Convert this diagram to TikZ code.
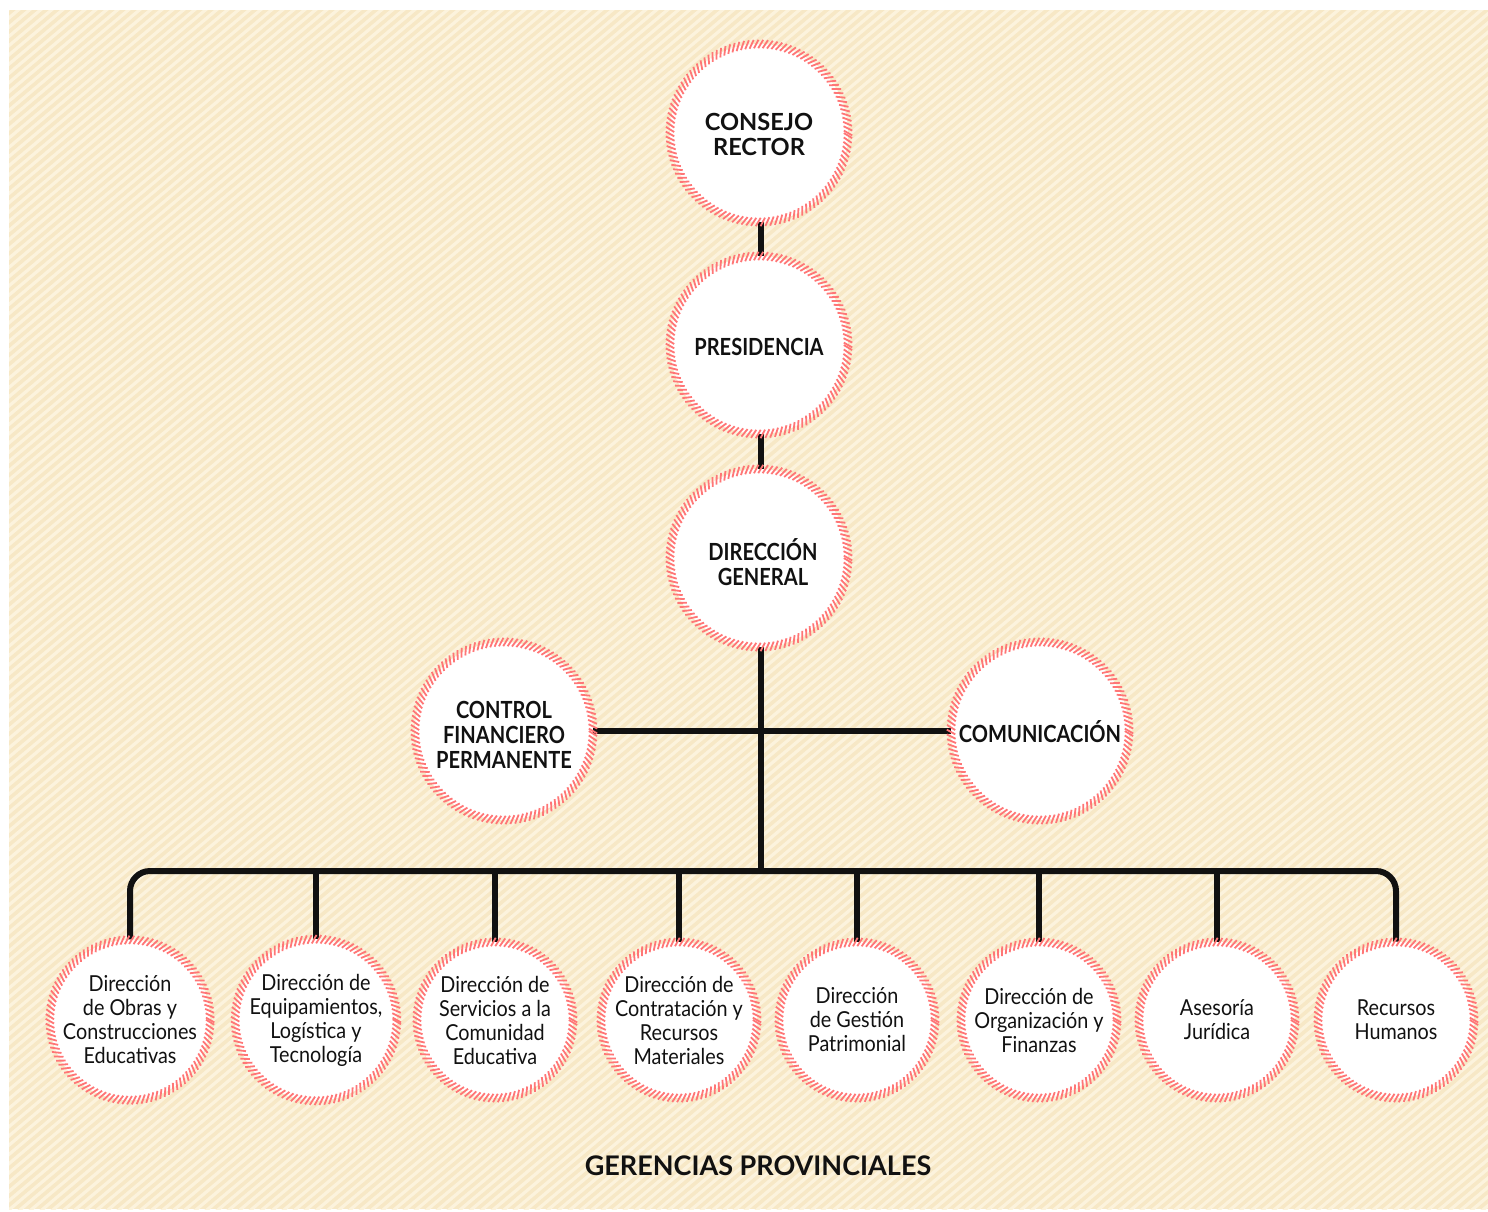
\documentclass[tikz,border=0pt]{standalone}
\usepackage{fontspec}
\setmainfont{Lato}
\newfontfamily\headfont[FakeStretch=0.85]{Lato}
\newfontfamily\bodyfont[FakeStretch=0.9]{Lato}
\usetikzlibrary{decorations.markings}
\definecolor{bgbeige}{HTML}{F7E8C6}
\definecolor{stripe}{HTML}{FCF3DD}
\definecolor{ringc}{HTML}{FF7676}
\definecolor{ink}{HTML}{111111}
\pgfdeclarelayer{bg}
\pgfsetlayers{bg,main}
\tikzset{
  ringed/.style={circle, fill=white, inner sep=0pt, align=center, text=ink,
    postaction={decorate, decoration={markings,
      mark=between positions 0 and 1 step 2.3pt with {\draw[ringc, line width=0.9pt] (-1.2pt,-2.1pt) -- (1.2pt,2.1pt);}}}},
  bigc/.style={ringed, minimum size=89pt},
  headtxt/.style={text=ink, align=center, inner sep=0pt, font=\headfont\bfseries\fontsize{11.8}{12.5}\selectfont},
  widetxt/.style={text=ink, align=center, inner sep=0pt, font=\bfseries\fontsize{11.8}{12.5}\selectfont},
  smallc/.style={ringed, minimum size=78pt, font=\bodyfont\fontsize{11}{12}\selectfont},
  conn/.style={draw=ink, line width=3pt},
  footer/.style={text=ink, font=\bfseries\fontsize{13.5}{14}\selectfont},
}
\begin{document}
\begin{tikzpicture}[x=0.5pt,y=-0.5pt]
\useasboundingbox (0,0) rectangle (1488,1211);
% upper circles
\node[bigc] (cr) at (759,133) {};
\node[bigc] (pr) at (759,345) {};
\node[bigc] (dg) at (759,558) {};
\node[bigc] (cf) at (504,731) {};
\node[bigc] (co) at (1040,731) {};
\node[widetxt] (cr-t) at ([yshift=-0.8pt]cr.center) {CONSEJO\\RECTOR};
\node[headtxt] (pr-t) at ([yshift=-1pt]pr.center) {PRESIDENCIA};
\node[headtxt] (dg-t) at ([xshift=2pt,yshift=-2pt]dg.center) {DIRECCIÓN\\GENERAL};
\node[headtxt] (cf-t) at ([yshift=-2pt]cf.center) {CONTROL\\FINANCIERO\\PERMANENTE};
\node[headtxt] (co-t) at ([yshift=-0.5pt]co.center) {COMUNICACIÓN};
% lower circles
\node[smallc] (b1) at (130,1020) {Dirección\\de Obras y\\Construcciones\\Educativas};
\node[smallc] (b2) at (316,1020) {Dirección de\\Equipamientos,\\Logística y\\Tecnología};
\node[smallc] (b3) at (495,1020) {Dirección de\\Servicios a la\\Comunidad\\Educativa};
\node[smallc] (b4) at (679,1020) {Dirección de\\Contratación y\\Recursos\\Materiales};
\node[smallc] (b5) at (857,1020) {Dirección\\de Gestión\\Patrimonial};
\node[smallc] (b6) at (1039,1020) {Dirección de\\Organización y\\Finanzas};
\node[smallc] (b7) at (1217,1020) {Asesoría\\Jurídica};
\node[smallc] (b8) at (1396,1020) {Recursos\\Humanos};
\node[footer] (gp) at (758,1166) {GERENCIAS PROVINCIALES};
\coordinate (bus) at (761,871);
\begin{pgfonlayer}{bg}
  \fill[white] (0,0) rectangle (1488,1211);
  \begin{scope}
    \clip (9,10) rectangle (1488,1209);
    \fill[bgbeige] (9,10) rectangle (1488,1209);
    \foreach \t in {-1500,-1489,...,1500}
      \draw[stripe, line width=1.6pt] (\t,1230) -- ++(1500,-1260);
  \end{scope}
  \draw[conn] ([xshift=1pt]cr.south) -- ([xshift=1pt]pr.north);
  \draw[conn] ([xshift=1pt]pr.south) -- ([xshift=1pt]dg.north);
  \draw[conn] ([xshift=1pt]dg.south) -- (bus);
  \draw[conn] (cf.east) -- (co.west);
  \draw[conn, rounded corners=10pt] (b1.north) |- (bus) -| (b8.north);
  \foreach \n in {b2,b3,b4,b5,b6,b7}
    \draw[conn] (\n.north) -- (\n.north |- bus);
\end{pgfonlayer}
\end{tikzpicture}
\end{document}
